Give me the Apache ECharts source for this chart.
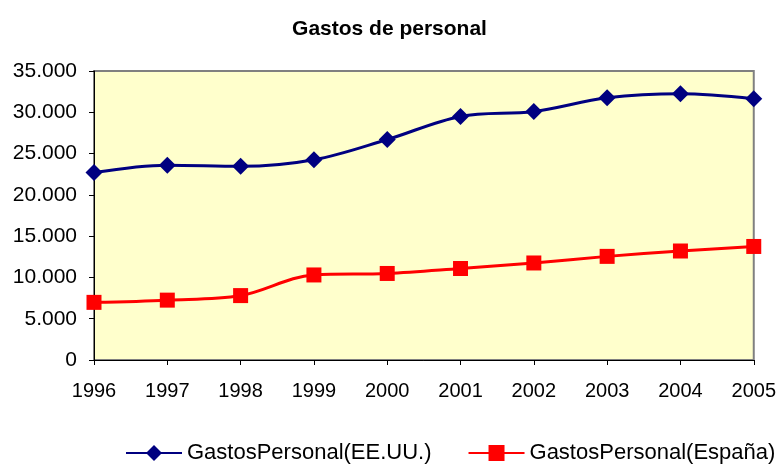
<!DOCTYPE html>
<html>
<head>
<meta charset="utf-8">
<script src="https://cdn.jsdelivr.net/npm/echarts@6/dist/echarts.min.js"></script>
<style>
html,body{margin:0;padding:0;background:#fff;}
#chart{width:779px;height:464px;}
</style>
</head>
<body>
<div id="chart"></div>
<script>
var years = ['1996','1997','1998','1999','2000','2001','2002','2003','2004','2005'];
var gastosEEUU = [22700, 23600, 23450, 24250, 26700, 29500, 30100, 31750, 32250, 31650];
var gastosEspana = [6980, 7250, 7800, 10300, 10480, 11080, 11750, 12550, 13200, 13750];

var chart = echarts.init(document.getElementById('chart'));
var font = 'Liberation Sans, Arial, sans-serif';

function fmt(v){
  return String(v).replace(/\B(?=(\d{3})+(?!\d))/g, '.');
}

chart.setOption({
  animation: false,
  textStyle: {fontFamily: font},
  title: {
    text: 'Gastos de personal',
    left: 'center',
    top: 14,
    textStyle: {fontSize: 21, fontWeight: 'bold', color: '#000', fontFamily: font}
  },
  grid: {
    left: 94, right: 23, top: 71, bottom: 104,
    show: true,
    backgroundColor: '#FFFFCC',
    borderColor: '#808080',
    borderWidth: 2
  },
  legend: {
    top: 442,
    left: 125,
    width: 700,
    padding: 0,
    itemWidth: 56,
    itemHeight: 20,
    itemGap: 36,
    textStyle: {fontSize: 22, color: '#000', fontFamily: font},
    data: ['GastosPersonal(EE.UU.)', 'GastosPersonal(España)']
  },
  xAxis: {
    type: 'category',
    data: years,
    boundaryGap: false,
    axisLine: {lineStyle: {color: '#000', width: 1}},
    axisTick: {show: true, length: 5, lineStyle: {color: '#000'}},
    axisLabel: {fontSize: 20, color: '#000', margin: 21}
  },
  yAxis: {
    type: 'value',
    min: 0, max: 35000, interval: 5000,
    splitLine: {show: false},
    axisLine: {show: true, lineStyle: {color: '#000', width: 1}},
    axisTick: {show: true, length: 5, lineStyle: {color: '#000'}},
    axisLabel: {fontSize: 21, color: '#000', margin: 17, formatter: fmt}
  },
  series: [
    {
      name: 'GastosPersonal(EE.UU.)',
      type: 'line',
      smooth: 0.35,
      data: gastosEEUU,
      symbol: 'diamond',
      symbolSize: 17,
      lineStyle: {color: '#000080', width: 3},
      itemStyle: {color: '#000080'}
    },
    {
      name: 'GastosPersonal(España)',
      type: 'line',
      smooth: 0.35,
      data: gastosEspana,
      symbol: 'rect',
      symbolSize: 15,
      lineStyle: {color: '#FF0000', width: 3},
      itemStyle: {color: '#FF0000'}
    }
  ]
});
</script>
</body>
</html>
